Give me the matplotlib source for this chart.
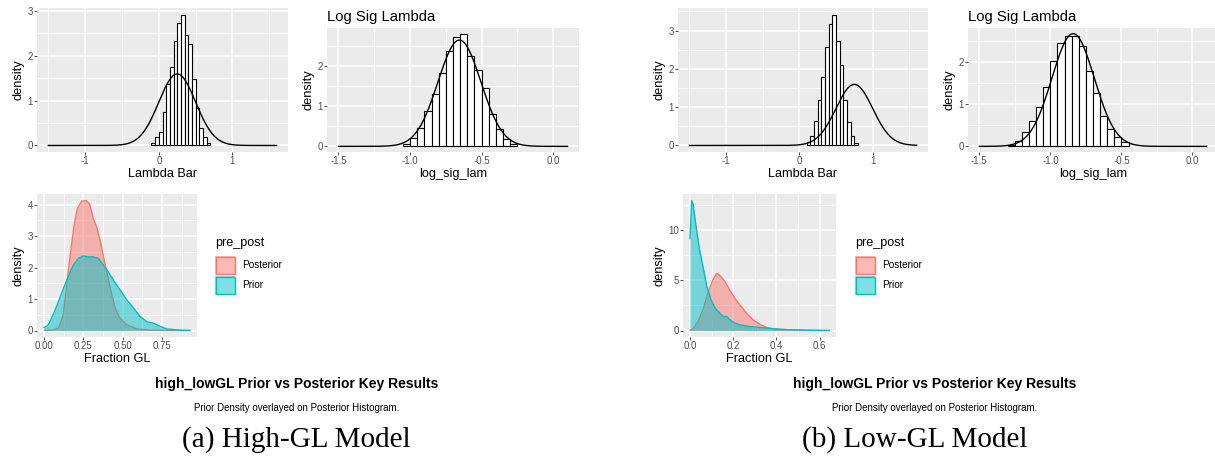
import numpy as np
import matplotlib
matplotlib.use("Agg")
import matplotlib.pyplot as plt
from matplotlib.patches import Rectangle

# ---------------- data ----------------
BINW = 0.05

# High-GL model: posterior histogram of Lambda Bar (bin left edges, densities)
hi_lam_bins = [-0.10, -0.05, 0.00, 0.05, 0.10, 0.15, 0.20, 0.25, 0.30, 0.35,
               0.40, 0.45, 0.50, 0.55, 0.60, 0.65]
hi_lam_dens = [0.05, 0.19, 0.31, 0.74, 1.38, 1.76, 2.33, 2.73, 2.92, 2.46,
               2.27, 1.49, 0.84, 0.39, 0.19, 0.05]
hi_lam_prior = (0.25, 0.25)          # normal prior: mean, sd

# High-GL model: posterior histogram of log_sig_lam
hi_lsl_bins = [-1.05, -1.00, -0.95, -0.90, -0.85, -0.80, -0.75, -0.70, -0.65,
               -0.60, -0.55, -0.50, -0.45, -0.40, -0.35, -0.30]
hi_lsl_dens = [0.05, 0.20, 0.46, 0.89, 1.30, 1.83, 2.38, 2.73, 2.82,
               2.27, 1.90, 1.47, 0.80, 0.44, 0.18, 0.07]
hi_lsl_prior = (-0.655, 0.15)

# Low-GL model: posterior histogram of Lambda Bar
lo_lam_bins = [0.10, 0.15, 0.20, 0.25, 0.30, 0.35, 0.40, 0.45, 0.50, 0.55,
               0.60, 0.65, 0.70, 0.75]
lo_lam_dens = [0.09, 0.26, 0.63, 1.20, 1.78, 2.57, 3.17, 3.42, 2.74, 2.11,
               1.19, 0.61, 0.26, 0.07]
lo_lam_prior = (0.75, 0.25)

# Low-GL model: posterior histogram of log_sig_lam
lo_lsl_bins = [-1.30, -1.25, -1.20, -1.15, -1.10, -1.05, -1.00, -0.95, -0.90,
               -0.85, -0.80, -0.75, -0.70, -0.65, -0.60, -0.55, -0.50]
lo_lsl_dens = [0.04, 0.12, 0.34, 0.60, 0.94, 1.42, 2.02, 2.46, 2.63,
               2.63, 2.39, 1.78, 1.27, 0.72, 0.42, 0.23, 0.10]
lo_lsl_prior = (-0.84, 0.149)

# Fraction GL densities, High-GL model
hi_post_x = [0.0, 0.026, 0.057, 0.09, 0.121, 0.143, 0.168, 0.19, 0.21, 0.239,
             0.266, 0.288, 0.313, 0.334, 0.356, 0.377, 0.398, 0.426, 0.452,
             0.483, 0.526, 0.59, 0.675, 0.8, 0.927]
hi_post_y = [0.01, 0.01, 0.02, 0.07, 0.5, 1.45, 2.5, 3.34, 3.87, 4.11,
             4.13, 4.03, 3.55, 3.29, 2.87, 2.34, 1.87, 1.23, 0.71,
             0.39, 0.18, 0.05, 0.01, 0.0, 0.0]
hi_prior_x = [0.0, 0.026, 0.057, 0.09, 0.121, 0.153, 0.185, 0.217, 0.249,
              0.275, 0.313, 0.345, 0.377, 0.409, 0.441, 0.483, 0.526, 0.569,
              0.611, 0.654, 0.696, 0.739, 0.782, 0.846, 0.927]
hi_prior_y = [0.09, 0.18, 0.5, 0.92, 1.32, 1.71, 2.08, 2.29, 2.37,
              2.34, 2.34, 2.29, 2.08, 1.85, 1.6, 1.29, 0.97, 0.71,
              0.44, 0.28, 0.23, 0.13, 0.05, 0.02, 0.0]

# Fraction GL densities, Low-GL model
lo_post_x = [0.0, 0.015, 0.038, 0.062, 0.085, 0.105, 0.123, 0.138, 0.162,
             0.185, 0.208, 0.231, 0.262, 0.292, 0.323, 0.354, 0.385, 0.415,
             0.46, 0.508, 0.6, 0.643]
lo_post_y = [0.03, 0.17, 0.9, 2.2, 3.9, 5.0, 5.7, 5.5, 4.9,
             4.0, 3.2, 2.55, 1.72, 1.06, 0.63, 0.3, 0.17, 0.1,
             0.07, 0.03, 0.01, 0.0]
lo_prior_x = [0.0, 0.008, 0.015, 0.023, 0.034, 0.046, 0.062, 0.077, 0.095,
              0.115, 0.138, 0.154, 0.169, 0.185, 0.208, 0.231, 0.277, 0.323,
              0.385, 0.46, 0.538, 0.643]
lo_prior_y = [9.17, 12.98, 12.6, 11.2, 9.5, 7.85, 6.2, 4.5, 3.2,
              2.28, 1.72, 1.39, 1.39, 1.06, 0.73, 0.56, 0.4, 0.3,
              0.17, 0.07, 0.03, 0.0]

groups = ["Posterior", "Prior"]
group_colors = {"Posterior": "#F8766D", "Prior": "#00BFC4"}

main_title = "high_lowGL Prior vs Posterior Key Results"
sub_title = "Prior Density overlayed on Posterior Histogram."
captions = ["(a) High-GL Model", "(b) Low-GL Model"]

# ---------------- styling helpers ----------------
W, H = 1215, 462
plt.rcParams["font.family"] = ["Liberation Sans", "DejaVu Sans"]
fig = plt.figure(figsize=(W / 100, H / 100), dpi=100)

BG = "#EBEBEB"
TICK_SIZE = 7.0
AXTITLE_SIZE = 9.2


def expand(lo, hi, mult=0.05):
    d = (hi - lo) * mult
    return lo - d, hi + d


def panel(x0, y0, x1, y1):
    return fig.add_axes([x0 / W, 1 - y1 / H, (x1 - x0) / W, (y1 - y0) / H])


def style(ax, xlim, ylim, xmaj, xlab, ymaj, xmin, ymin, xlabel):
    ax.set_facecolor(BG)
    for s in ax.spines.values():
        s.set_visible(False)
    ax.set_xlim(*xlim)
    ax.set_ylim(*ylim)
    ax.set_xticks(xmaj)
    ax.set_xticklabels(xlab)
    ax.set_yticks(ymaj)
    ax.set_yticklabels([f"{v:g}" for v in ymaj])
    ax.set_xticks(xmin, minor=True)
    ax.set_yticks(ymin, minor=True)
    ax.grid(which="major", color="white", lw=1.1)
    ax.grid(which="minor", color="white", lw=0.55)
    ax.set_axisbelow(True)
    ax.tick_params(which="major", length=2.2, width=0.6, color="#333333",
                   labelsize=TICK_SIZE, labelcolor="#4D4D4D", pad=0.8)
    ax.tick_params(which="minor", length=0)
    ax.set_xlabel(xlabel, fontsize=AXTITLE_SIZE, labelpad=1.5)
    ax.set_ylabel("density", fontsize=AXTITLE_SIZE, labelpad=2)


def hist_panel(box, bins, dens, prior, xrange, xmaj, xlab, xmin, ymaj, ymin,
               xlabel, title=None):
    ax = panel(*box)
    grid = np.linspace(xrange[0], xrange[1], 600)
    curve = np.exp(-0.5 * ((grid - prior[0]) / prior[1]) ** 2) / (prior[1] * np.sqrt(2 * np.pi))
    ax.bar(bins, dens, width=BINW, align="edge", color="white",
           edgecolor="black", lw=0.8, zorder=2)
    ax.plot(grid, curve, color="black", lw=1.0, zorder=3)
    ytop = max(max(dens), curve.max())
    style(ax, expand(*xrange), expand(0, ytop), xmaj, xlab, ymaj, xmin, ymin, xlabel)
    if title:
        ax.set_title(title, loc="left", fontsize=10.7, pad=5)
    return ax


def density_panel(box, series, xmaj, xlab, xmin, ymaj, ymin):
    ax = panel(*box)
    xmax = 0
    ymax = 0
    for g in groups:
        xs, ys = series[g]
        c = group_colors[g]
        ax.fill_between(xs, 0, ys, color=c, alpha=0.5, lw=0, zorder=2)
        ax.plot(xs, ys, color=c, lw=1.0, zorder=2)
        xmax = max(xmax, max(xs))
        ymax = max(ymax, max(ys))
    style(ax, expand(0, xmax), expand(0, ymax), xmaj, xlab, ymaj, xmin, ymin,
          "Fraction GL")
    return ax


def legend(x0):
    fig.text(x0 / W, 1 - 243 / H, "pre_post", fontsize=9.1, va="center", ha="left")
    for i, g in enumerate(groups):
        y0 = 256 + i * 20
        c = group_colors[g]
        fig.add_artist(Rectangle((x0 / W, 1 - (y0 + 18.5) / H), 20 / W, 18.5 / H,
                                 transform=fig.transFigure, facecolor=c,
                                 alpha=0.5, edgecolor="none"))
        fig.add_artist(Rectangle(((x0 + 0.5) / W, 1 - (y0 + 18) / H), 19 / W, 17.5 / H,
                                 transform=fig.transFigure, facecolor="none",
                                 edgecolor=c, lw=1.0))
        fig.text((x0 + 27) / W, 1 - (y0 + 9.5) / H, g, fontsize=7.2,
                 va="center", ha="left")


def footer(xc):
    fig.text(xc / W, 1 - 384 / H, main_title, fontsize=10, fontweight="bold",
             ha="center", va="center")
    fig.text(xc / W, 1 - 408 / H, sub_title, fontsize=7, ha="center", va="center")


# ---------------- High-GL model ----------------
lam_maj = [-1, 0, 1]
lam_min = [-1.5, -0.5, 0.5, 1.5]
lsl_maj = [-1.5, -1.0, -0.5, 0.0]
lsl_min = [-1.25, -0.75, -0.25]

hist_panel((37, 8, 288, 152), hi_lam_bins, hi_lam_dens, hi_lam_prior,
           (-1.5, 1.6), lam_maj, ["-1", "0", "1"], lam_min,
           [0, 1, 2, 3], [0.5, 1.5, 2.5], "Lambda Bar")
hist_panel((327, 28, 579, 152), hi_lsl_bins, hi_lsl_dens, hi_lsl_prior,
           (-1.5, 0.1), lsl_maj, ["-1.5", "-1.0", "-0.5", "0.0"], lsl_min,
           [0, 1, 2], [0.5, 1.5, 2.5], "log_sig_lam", title="Log Sig Lambda")
density_panel((37, 194, 197, 337),
              {"Posterior": (hi_post_x, hi_post_y), "Prior": (hi_prior_x, hi_prior_y)},
              [0, 0.25, 0.5, 0.75], ["0.00", "0.25", "0.50", "0.75"],
              [0.125, 0.375, 0.625, 0.875], [0, 1, 2, 3, 4], [0.5, 1.5, 2.5, 3.5])
legend(215)
footer(297)

# ---------------- Low-GL model ----------------
hist_panel((678, 8, 928, 152), lo_lam_bins, lo_lam_dens, lo_lam_prior,
           (-1.5, 1.6), lam_maj, ["-1", "0", "1"], lam_min,
           [0, 1, 2, 3], [0.5, 1.5, 2.5, 3.5], "Lambda Bar")
hist_panel((968, 28, 1218, 152), lo_lsl_bins, lo_lsl_dens, lo_lsl_prior,
           (-1.5, 0.1), lsl_maj, ["-1.5", "-1.0", "-0.5", "0.0"], lsl_min,
           [0, 1, 2], [0.5, 1.5, 2.5], "log_sig_lam", title="Log Sig Lambda")
density_panel((683, 194, 836, 337),
              {"Posterior": (lo_post_x, lo_post_y), "Prior": (lo_prior_x, lo_prior_y)},
              [0, 0.2, 0.4, 0.6], ["0.0", "0.2", "0.4", "0.6"],
              [0.1, 0.3, 0.5], [0, 5, 10], [2.5, 7.5, 12.5])
legend(855)
footer(935)

# ---------------- sub-figure captions ----------------
for xc, cap in zip([296, 915], captions):
    fig.text(xc / W, 1 - 440 / H, cap, fontsize=21, ha="center", va="center",
             family=["Liberation Serif", "DejaVu Serif"])

fig.savefig("out.png", dpi=100)
